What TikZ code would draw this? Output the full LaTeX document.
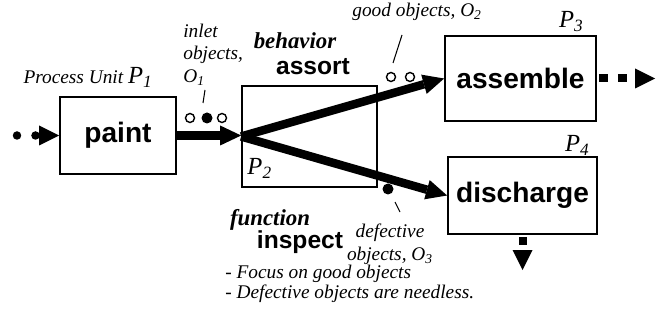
\documentclass[tikz,border=0pt]{standalone}
\usepackage{fontspec}
\setmainfont{Liberation Serif}
\setsansfont{Liberation Sans}
\usetikzlibrary{arrows.meta,positioning}
\newcommand{\unitP}[1]{{\fontsize{14}{14}\selectfont\itshape P\textsubscript{#1}}}
\tikzset{
  unitbox/.style={draw,line width=1pt,inner sep=0pt,
    font=\sffamily\bfseries\fontsize{16}{19}\selectfont},
  rolename/.style={inner sep=0pt,font=\sffamily\bfseries\fontsize{14}{17}\selectfont},
  roletag/.style={inner sep=0pt,font=\bfseries\itshape\fontsize{13}{15}\selectfont},
  notelabel/.style={inner sep=0pt,align=left,font=\itshape\fontsize{11}{13}\selectfont},
  unitlabel/.style={inner sep=0pt,font=\itshape\fontsize{11}{13}\selectfont},
  goodobj/.style={circle,draw,line width=0.8pt,fill=white,minimum size=0.18cm,inner sep=0pt},
  badobj/.style={circle,fill=black,minimum size=0.22cm,inner sep=0pt},
  leader/.style={line width=0.6pt},
  flowarrow/.style={line width=0.17cm,-{Triangle[length=0.42cm,width=0.4cm,line width=0pt]}},
  dotflow/.style={line width=0.17cm,line cap=round,dash pattern=on 0pt off 0.37cm,
    -{Triangle[length=0.4cm,width=0.4cm,line width=0pt]}},
  squareflow/.style={line width=0.16cm,dash pattern=on 0.18cm off 0.2cm,dash phase=0.34cm,
    -{Triangle[length=0.4cm,width=0.4cm,line width=0pt]}}
}
\begin{document}
\begin{tikzpicture}[x=0.02cm,y=-0.02cm]
  \useasboundingbox (0,0) rectangle (665,320);
  % process units
  \node[unitbox,minimum width=2.32cm,minimum height=1.54cm] (paint) at (118,135.5) {paint};
  \node[unitbox,minimum width=2.7cm,minimum height=2.02cm] (sorter) at (309.5,136.5) {};
  \node[unitbox,minimum width=3.02cm,minimum height=1.7cm] (assemble) at (520.5,78.5) {assemble};
  \node[unitbox,minimum width=2.98cm,minimum height=1.54cm] (discharge) at (522.5,195.5) {discharge};
  \node[unitlabel,above left=0.16cm and 0.48cm of paint.north east] (p1) {Process Unit \unitP{1}};
  \node[unitlabel,above right=0.18cm and 0.12cm of sorter.south west] (p2) {\unitP{2}};
  \node[unitlabel,above left=0.06cm and 0.26cm of assemble.north east] (p3) {\unitP{3}};
  \node[unitlabel,above left=0cm and 0.16cm of discharge.north east] (p4) {\unitP{4}};
  % flows
  \coordinate (feed) at (17,135.5);
  \coordinate (ship) at (655,78.5);
  \coordinate (dump) at (522.5,270);
  \draw[dotflow] (feed) -- (paint.west);
  \draw[flowarrow] (paint.east) -- (paint.east -| sorter.west);
  \draw[flowarrow] (sorter.west) -- (assemble.west);
  \draw[flowarrow] (sorter.west) -- (discharge.west);
  \draw[squareflow] (assemble.east) -- (ship);
  \draw[squareflow,dash pattern=on 0.16cm off 0.5cm,dash phase=0.62cm] (discharge.south) -- (dump);
  % objects
  \node[goodobj] (o1a) at (190,118) {};
  \node[badobj] (o1b) at (207,118) {};
  \node[goodobj] (o1c) at (222,118) {};
  \node[goodobj] (o2a) at (391,77) {};
  \node[goodobj] (o2b) at (410,77) {};
  \node[badobj] (o3) at (388,189) {};
  \draw[leader] ([shift={(-4,-15)}]o1b.center) -- ([shift={(-2,-28)}]o1b.center);
  \draw[leader] ([shift={(2,-14)}]o2a.center) -- ([shift={(11,-42)}]o2a.center);
  \draw[leader] ([shift={(7,13)}]o3.center) -- ([shift={(12,23)}]o3.center);
  \node[notelabel,anchor=south west] (inletnote) at (183,86) {inlet\\objects,\\O\textsubscript{1}};
  \node[unitlabel,anchor=base west] (goodnote) at (352,17) {good objects, O\textsubscript{2}};
  \node[notelabel,align=center,font=\itshape\fontsize{11}{13}\selectfont,anchor=south]
    (badnote) at (390,265) {defective\\objects, O\textsubscript{3}};
  % behavior and function
  \node[roletag,anchor=base] (behavtag) at (295,49) {behavior};
  \node[rolename,anchor=base] (behavname) at (313,75) {assort};
  \node[roletag,anchor=base] (functag) at (270,226) {function};
  \node[rolename,anchor=base] (funcname) at (300,249) {inspect};
  \node[notelabel,font=\itshape\fontsize{11}{9.4}\selectfont,anchor=north west] (purpose) at (225,265)
    {- Focus on good objects\\- Defective objects are needless.};
\end{tikzpicture}
\end{document}
